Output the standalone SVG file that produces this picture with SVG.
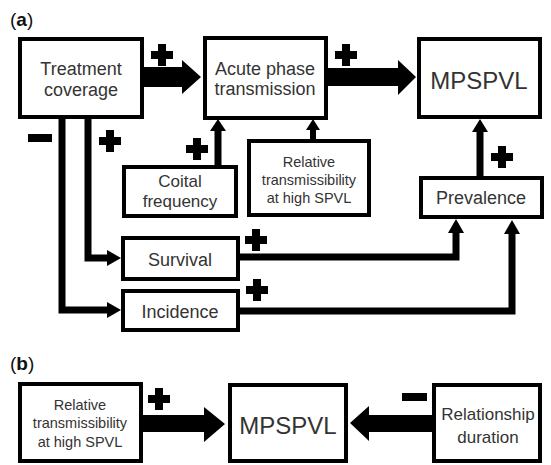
<svg xmlns="http://www.w3.org/2000/svg" width="551" height="465" viewBox="0 0 551 465">
<style>
.box{fill:#fff;stroke:#000;stroke-width:4}
.t{font-family:"Liberation Sans",Arial,sans-serif;fill:#333;text-anchor:middle}
.f18{font-size:18px}
.f17{font-size:17px}
.f15{font-size:14.5px}
.f24{font-size:24px}
.ln{fill:none;stroke:#000;stroke-width:7}
.ln6{fill:none;stroke:#000;stroke-width:6}
.blk{fill:#000}
.lab{font-family:"Liberation Sans",Arial,sans-serif;font-size:19px;fill:#111}
</style>
<rect width="551" height="465" fill="#fff"/>
<text class="lab" x="10" y="26">(<tspan font-weight="bold">a</tspan>)</text>
<text class="lab" x="10" y="370">(<tspan font-weight="bold">b</tspan>)</text>

<g id="connectors">
  <!-- Treatment -> Acute -->
  <polygon class="blk" points="143,67 182,67 182,60 201,77 182,94 182,87 143,87"/>
  <!-- Acute -> MPSPVL -->
  <polygon class="blk" points="327,68 398,68 398,60 416,77 398,95 398,86 327,86"/>
  <!-- Coital -> Acute -->
  <line class="ln" x1="218" y1="166" x2="218" y2="130"/>
  <polygon class="blk" points="218,119 226,131 210,131"/>
  <!-- Relative -> Acute -->
  <line class="ln6" x1="313" y1="140" x2="313" y2="129"/>
  <polygon class="blk" points="313,119 320,130 306,130"/>
  <!-- Prevalence -> MPSPVL -->
  <line class="ln" x1="480" y1="176" x2="480" y2="130"/>
  <polygon class="blk" points="480,119 488,132 472,132"/>
  <!-- Treatment -> Incidence -->
  <polyline class="ln" points="62,118 62,310 108,310"/>
  <polygon class="blk" points="121,310 107,302 107,318"/>
  <!-- Treatment -> Survival -->
  <polyline class="ln" points="88,118 88,258 108,258"/>
  <polygon class="blk" points="121,258 107,250 107,266"/>
  <!-- Survival -> Prevalence -->
  <polyline class="ln" points="239,257 456,257 456,232"/>
  <polygon class="blk" points="456,219 464,233 448,233"/>
  <!-- Incidence -> Prevalence -->
  <polyline class="ln" points="239,311 512,311 512,233"/>
  <polygon class="blk" points="512,220 520,234 504,234"/>
  <!-- (b) Relative -> MPSPVL -->
  <polygon class="blk" points="142,415 204,415 204,407 225,424 204,442 204,432 142,432"/>
  <!-- (b) Relationship -> MPSPVL -->
  <polygon class="blk" points="432,415 369,415 369,406 350,423 369,441 369,432 432,432"/>
  <!-- signs -->
  <path class="blk" d="M158,44h8v7h7v8h-7v7h-8v-7h-7v-8h7z"/>
  <path class="blk" d="M342,44h8v7h7v8h-7v7h-8v-7h-7v-8h7z"/>
  <path class="blk" d="M106,130h8v7h7v8h-7v7h-8v-7h-7v-8h7z"/>
  <path class="blk" d="M193,138h8v7h7v8h-7v7h-8v-7h-7v-8h7z"/>
  <path class="blk" d="M498,146h8v7h7v8h-7v7h-8v-7h-7v-8h7z"/>
  <path class="blk" d="M252,229h8v7h7v8h-7v7h-8v-7h-7v-8h7z"/>
  <path class="blk" d="M253,279h8v7h7v8h-7v7h-8v-7h-7v-8h7z"/>
  <path class="blk" d="M155,388h8v7h7v8h-7v7h-8v-7h-7v-8h7z"/>
  <rect class="blk" x="28" y="134" width="24" height="8"/>
  <rect class="blk" x="402" y="393" width="25" height="8"/>
</g>

<g id="treatment">
  <rect class="box" x="20" y="39" width="122" height="78"/>
  <text class="t f18" x="81" y="75">Treatment</text>
  <text class="t f18" x="81" y="96">coverage</text>
</g>
<g id="acute">
  <rect class="box" x="205" y="38" width="121" height="80"/>
  <text class="t f18" x="265" y="75">Acute phase</text>
  <text class="t f18" x="265" y="95">transmission</text>
</g>
<g id="mpspvl-a">
  <rect class="box" x="419" y="39" width="121" height="78"/>
  <text class="t f24" x="479" y="89">MPSPVL</text>
</g>
<g id="coital">
  <rect class="box" x="124" y="167" width="112" height="49"/>
  <text class="t f17" x="180" y="187">Coital</text>
  <text class="t f17" x="180" y="207">frequency</text>
</g>
<g id="relative-a">
  <rect class="box" x="249" y="141" width="120" height="74"/>
  <text class="t f15" x="309" y="167">Relative</text>
  <text class="t f15" x="309" y="185">transmissibility</text>
  <text class="t f15" x="309" y="203">at high SPVL</text>
</g>
<g id="prevalence">
  <rect class="box" x="421" y="178" width="121" height="39"/>
  <text class="t f18" x="481" y="204">Prevalence</text>
</g>
<g id="survival">
  <rect class="box" x="123" y="238" width="115" height="41"/>
  <text class="t f18" x="180" y="266">Survival</text>
</g>
<g id="incidence">
  <rect class="box" x="123" y="291" width="115" height="39"/>
  <text class="t f18" x="180" y="318">Incidence</text>
</g>
<g id="relative-b">
  <rect class="box" x="20" y="384" width="121" height="77"/>
  <text class="t f15" x="80" y="410">Relative</text>
  <text class="t f15" x="80" y="428">transmissibility</text>
  <text class="t f15" x="80" y="447">at high SPVL</text>
</g>
<g id="mpspvl-b">
  <rect class="box" x="230" y="385" width="116" height="76"/>
  <text class="t f24" x="288" y="434">MPSPVL</text>
</g>
<g id="relationship">
  <rect class="box" x="434" y="385" width="106" height="76"/>
  <text class="t f17" x="488" y="420">Relationship</text>
  <text class="t f17" x="488" y="443">duration</text>
</g>
</svg>
